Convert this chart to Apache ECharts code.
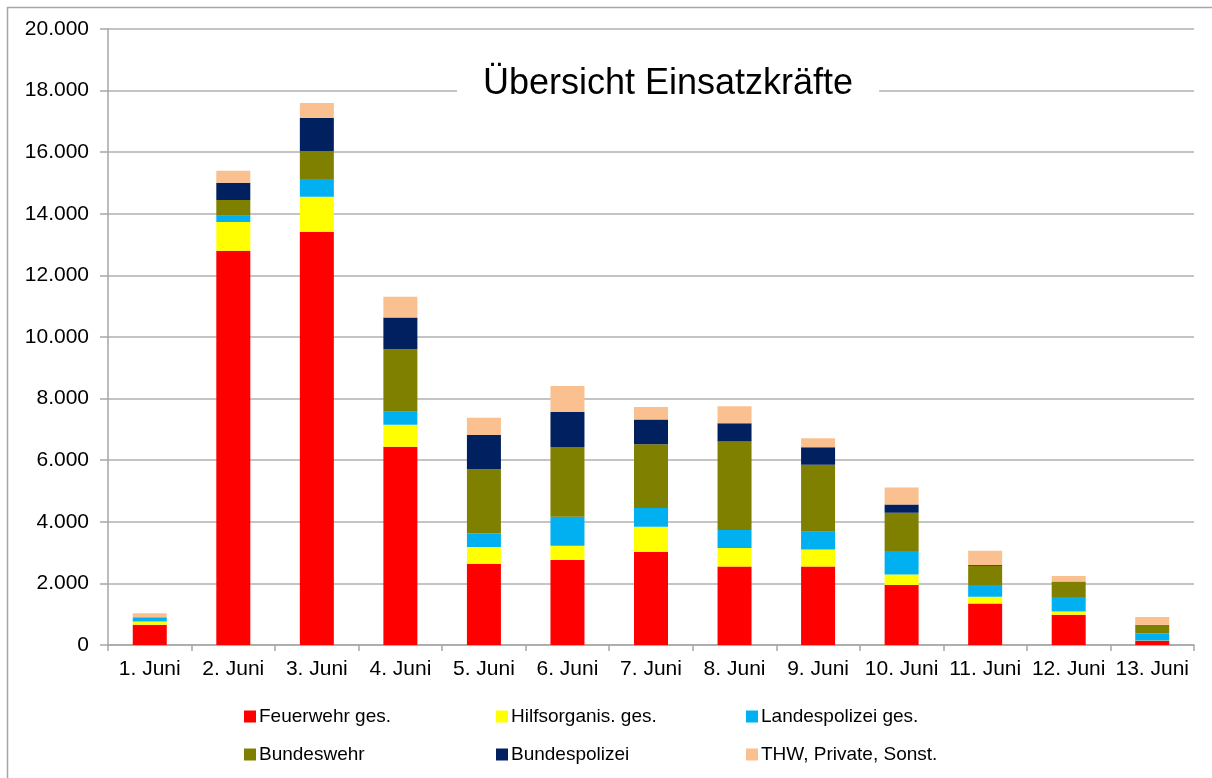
<!DOCTYPE html>
<html>
<head>
<meta charset="utf-8">
<script src="https://cdn.jsdelivr.net/npm/echarts@6/dist/echarts.min.js"></script>
<style>
  html, body { margin: 0; padding: 0; background: #fff; }
  #main { width: 1212px; height: 778px; }
</style>
</head>
<body>
<div id="main"></div>
<script>
// Tage
var days = ['1. Juni', '2. Juni', '3. Juni', '4. Juni', '5. Juni', '6. Juni', '7. Juni',
  '8. Juni', '9. Juni', '10. Juni', '11. Juni', '12. Juni', '13. Juni'];

// Einsatzkräfte je Organisation
var feuerwehr = [660, 12800, 13420, 6440, 2640, 2760, 3030, 2550, 2550, 1950, 1350, 980, 140];
var hilfsorg = [100, 930, 1130, 710, 540, 460, 810, 600, 550, 340, 220, 110, 10];
var landespolizei = [140, 210, 580, 420, 450, 940, 610, 580, 580, 760, 380, 470, 220];
var bundeswehr = [0, 510, 910, 2030, 2080, 2270, 2070, 2880, 2170, 1240, 620, 500, 290];
var bundespolizei = [0, 560, 1070, 1030, 1110, 1140, 800, 590, 570, 270, 30, 0, 0];
var thw = [130, 390, 490, 680, 560, 840, 410, 550, 290, 550, 460, 180, 250];

var names = ['Feuerwehr ges.', 'Hilfsorganis. ges.', 'Landespolizei ges.',
  'Bundeswehr', 'Bundespolizei', 'THW, Private, Sonst.'];
var colors = ['#ff0000', '#ffff00', '#00b0f0', '#808000', '#002060', '#fac090'];
var values = [feuerwehr, hilfsorg, landespolizei, bundeswehr, bundespolizei, thw];

var font = 'Liberation Sans, Arial, sans-serif';

var chart = echarts.init(document.getElementById('main'));

var series = names.map(function (n, i) {
  return {
    name: n,
    type: 'bar',
    stack: 'total',
    barWidth: 34,
    data: values[i],
    itemStyle: { color: colors[i] }
  };
});

function legendCol(left, items) {
  return {
    orient: 'vertical',
    left: left,
    top: 707,
    padding: 0,
    itemGap: 19,
    itemWidth: 12,
    itemHeight: 12,
    icon: 'rect',
    selectedMode: false,
    data: items,
    textStyle: { fontFamily: font, fontSize: 19, color: '#000', padding: [0, 0, 0, -2] }
  };
}

chart.setOption({
  animation: false,
  color: colors,
  title: {
    text: 'Übersicht Einsatzkräfte',
    left: 457,
    top: 62,
    padding: [4, 26, 4, 26],
    backgroundColor: '#fff',
    textStyle: { fontFamily: font, fontSize: 36, fontWeight: 'normal', color: '#000' },
    z: 10
  },
  legend: [
    legendCol(244, [names[0], names[3]]),
    legendCol(496, [names[1], names[4]]),
    legendCol(746, [names[2], names[5]])
  ],
  grid: {
    left: 108,
    right: 18,
    top: 29,
    bottom: 133
  },
  xAxis: {
    type: 'category',
    data: days,
    axisLine: { lineStyle: { color: '#a6a6a6', width: 1.5 } },
    axisTick: { show: true, length: 6, lineStyle: { color: '#a6a6a6', width: 1.5 } },
    axisLabel: { fontFamily: font, fontSize: 21, color: '#000', margin: 14, interval: 0 }
  },
  yAxis: {
    type: 'value',
    min: 0,
    max: 20000,
    interval: 2000,
    axisLine: { show: true, lineStyle: { color: '#a6a6a6', width: 1.5 } },
    axisTick: { show: true, length: 8, lineStyle: { color: '#a6a6a6', width: 1.5 } },
    splitLine: { lineStyle: { color: '#b0b0b0', width: 1.5 } },
    axisLabel: {
      fontFamily: font, fontSize: 21, color: '#000', margin: 19,
      formatter: function (v) {
        return v === 0 ? '0' : (v / 1000) + '.000';
      }
    }
  },
  graphic: [{
    type: 'rect',
    shape: { x: 7.5, y: 7.5, width: 1220, height: 800 },
    style: { fill: 'none', stroke: '#a6a6a6', lineWidth: 1.5 },
    silent: true
  }],
  series: series
});
</script>
</body>
</html>
